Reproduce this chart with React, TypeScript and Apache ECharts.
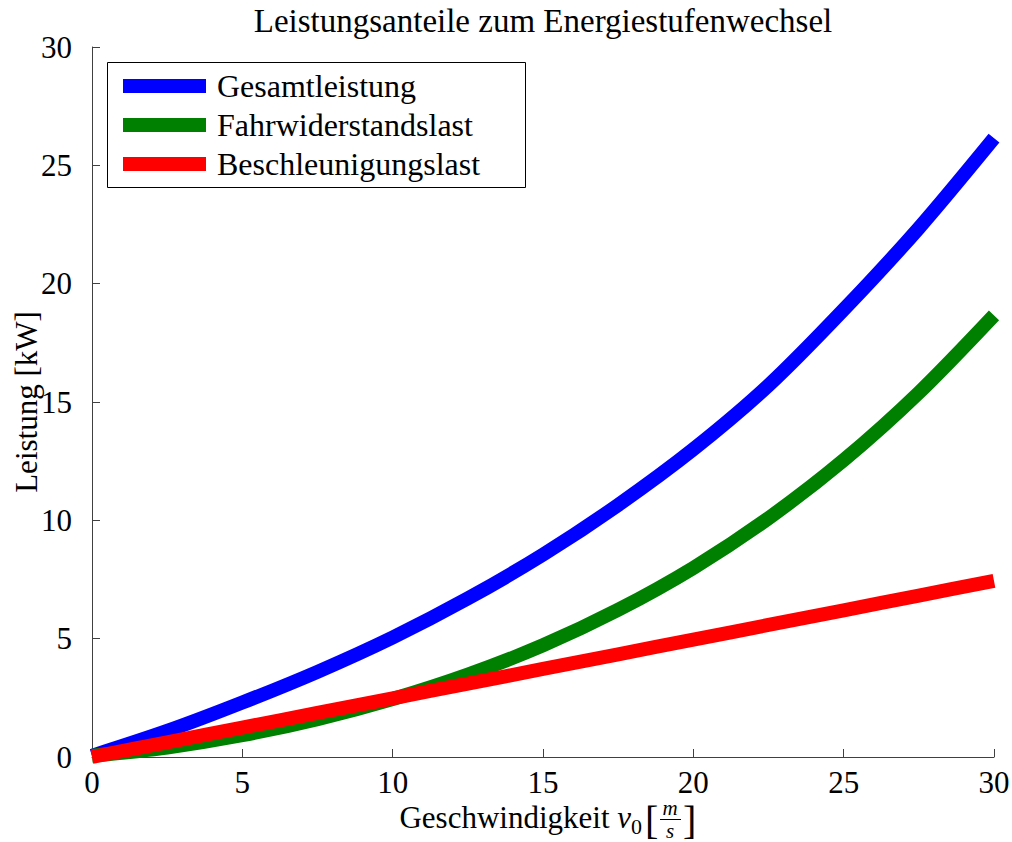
import React, { useEffect, useRef } from "react";
import * as echarts from "echarts";

const speeds = [0, 2.5, 5, 7.5, 10, 12.5, 15, 17.5, 20, 22.5, 25, 27.5, 30];
const gesamtleistung = [0.05, 1.1, 2.3, 3.6, 5.05, 6.7, 8.55, 10.65, 13.0, 15.7, 18.9, 22.35, 26.15];
const fahrwiderstandslast = [0.05, 0.4, 0.92, 1.6, 2.45, 3.48, 4.72, 6.22, 7.99, 10.09, 12.54, 15.39, 18.66];
const beschleunigungslast = [0.0, 0.62, 1.24, 1.86, 2.48, 3.1, 3.72, 4.34, 4.96, 5.58, 6.2, 6.82, 7.44];
const seriesNames = ["Gesamtleistung", "Fahrwiderstandslast", "Beschleunigungslast"];
const seriesColors = ["#0000ff", "#008000", "#ff0000"];
const xTicks = [0, 5, 10, 15, 20, 25, 30];
const yTicks = [0, 5, 10, 15, 20, 25, 30];

const FONT = "'Liberation Serif', 'Times New Roman', serif";

export default function App() {
  const ref = useRef<HTMLDivElement>(null);
  useEffect(() => {
    if (!ref.current) return;
    const chart = echarts.init(ref.current, null, { renderer: "svg" });
    const allData = [gesamtleistung, fahrwiderstandslast, beschleunigungslast];
    const axisCommon = {
      type: "value" as const,
      min: 0,
      max: 30,
      interval: 5,
      splitLine: { show: false },
      axisLine: { show: true, lineStyle: { color: "#404040", width: 1 } },
      axisTick: { show: true, inside: true, length: 8, lineStyle: { color: "#404040" } },
    };
    chart.setOption({
      animation: false,
      backgroundColor: "#ffffff",
      title: {
        text: "Leistungsanteile zum Energiestufenwechsel",
        left: 543,
        textAlign: "center",
        top: 4,
        padding: 0,
        textStyle: { fontFamily: FONT, fontSize: 33, fontWeight: "normal", color: "#000" },
      },
      grid: { left: 92, right: 18, top: 47, bottom: 85, containLabel: false, outerBoundsMode: "none" },
      legend: {
        orient: "vertical",
        left: 123,
        top: 70,
        padding: 0,
        itemWidth: 83,
        itemHeight: 14,
        itemGap: 7,
        icon: "rect",
        data: seriesNames,
        textStyle: { fontFamily: FONT, fontSize: 32, color: "#000", padding: [0, 0, 0, 6], lineHeight: 31 },
      },
      xAxis: {
        ...axisCommon,
        axisLabel: {
          margin: 10,
          fontFamily: FONT,
          fontSize: 31,
          color: "#000",
          formatter: (v: number) => (xTicks.includes(v) ? String(v) : ""),
        },
      },
      yAxis: {
        ...axisCommon,
        name: "Leistung [kW]",
        nameLocation: "middle",
        nameGap: 50,
        nameMoveOverlap: false,
        nameTextStyle: { fontFamily: FONT, fontSize: 31, color: "#000" },
        axisLabel: {
          margin: 20,
          fontFamily: FONT,
          fontSize: 31,
          color: "#000",
          formatter: (v: number) => (yTicks.includes(v) ? String(v) : ""),
        },
      },
      graphic: [
        {
          type: "rect",
          shape: { x: 107.5, y: 62.5, width: 418, height: 125 },
          style: { fill: "none", stroke: "#000", lineWidth: 1 },
          z: 1,
        },
        {
          type: "text",
          x: 631,
          y: 817,
          style: {
            text: "{n|Geschwindigkeit }{v|v}",
            align: "right",
            verticalAlign: "middle",
            rich: {
              n: { fontFamily: FONT, fontSize: 31, fill: "#000" },
              v: { fontFamily: FONT, fontSize: 31, fontStyle: "italic", fill: "#000" },
            },
          },
        },
        {
          type: "text",
          x: 631,
          y: 826,
          style: { text: "0", align: "left", verticalAlign: "middle", fontFamily: FONT, fontSize: 22, fill: "#000", lineHeight: 16 },
        },
        {
          type: "text",
          x: 645,
          y: 820,
          style: { text: "[", align: "left", verticalAlign: "middle", fontFamily: FONT, fontSize: 40, fill: "#000" },
        },
        {
          type: "text",
          x: 670,
          y: 808,
          style: { text: "m", align: "center", verticalAlign: "middle", fontFamily: FONT, fontSize: 21, fontStyle: "italic", fill: "#000", lineHeight: 14 },
        },
        {
          type: "line",
          shape: { x1: 660, y1: 819.5, x2: 681, y2: 819.5 },
          style: { stroke: "#000", lineWidth: 1 },
        },
        {
          type: "text",
          x: 670,
          y: 831,
          style: { text: "s", align: "center", verticalAlign: "middle", fontFamily: FONT, fontSize: 21, fontStyle: "italic", fill: "#000", lineHeight: 14 },
        },
        {
          type: "text",
          x: 683,
          y: 820,
          style: { text: "]", align: "left", verticalAlign: "middle", fontFamily: FONT, fontSize: 40, fill: "#000" },
        },
      ],
      series: seriesNames.map((name, i) => ({
        name,
        type: "line",
        data: speeds.map((v, j) => [v, allData[i][j]]),
        showSymbol: false,
        symbol: "none",
        smooth: 0.3,
        clip: true,
        color: seriesColors[i],
        lineStyle: { width: 14, color: seriesColors[i], cap: "butt" },
        itemStyle: { color: seriesColors[i] },
      })),
    });
    return () => chart.dispose();
  }, []);
  return <div ref={ref} style={{ position: "fixed", left: 0, top: 0, width: 1012, height: 842 }} />;
}
